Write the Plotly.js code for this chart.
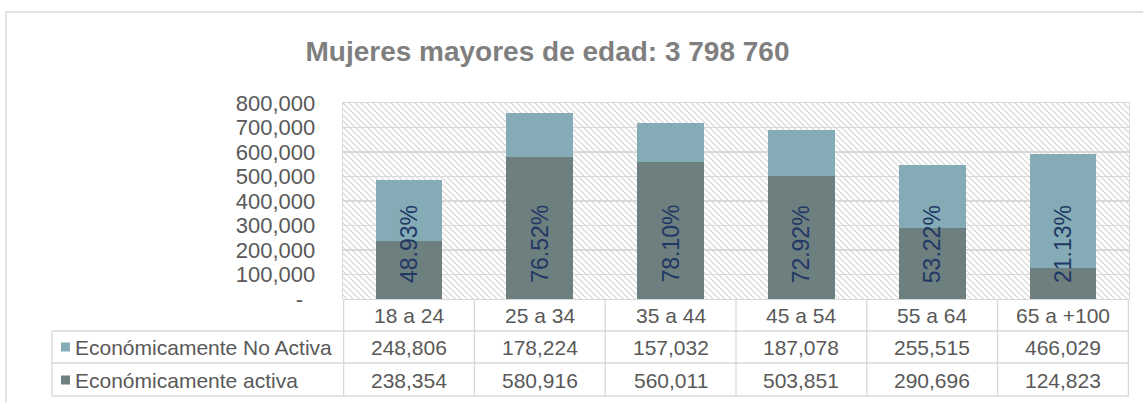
<!DOCTYPE html>
<html>
<head>
<meta charset="utf-8">
<script src="https://cdn.plot.ly/plotly-3.0.1.min.js"></script>
<style>
  html, body { margin: 0; padding: 0; background: #fff; }
  #chart { width: 1143px; height: 402px; }
</style>
</head>
<body>
<div id="chart"></div>
<script>
const categories = ['18 a 24', '25 a 34', '35 a 44', '45 a 54', '55 a 64', '65 a +100'];
const noActiva = [248806, 178224, 157032, 187078, 255515, 466029];
const activa = [238354, 580916, 560011, 503851, 290696, 124823];
const seriesNames = ['Económicamente No Activa', 'Económicamente activa'];
const yTickVals = [0, 100000, 200000, 300000, 400000, 500000, 600000, 700000, 800000];
const yTickText = ['-\u00a0\u00a0', '100,000', '200,000', '300,000', '400,000', '500,000', '600,000', '700,000', '800,000'];

const COLOR_ACTIVA = '#6E7F80';
const COLOR_NO_ACTIVA = '#85ACB6';
const GRID = '#D9D9D9';
const TEXT = '#595959';
const FONT = 'Liberation Sans, Arial, sans-serif';

// plot area in px, used to turn the table rows into paper coords
const PLOT = { l: 343, r: 1129, t: 103, b: 299 };
const pxX = (px) => (px - PLOT.l) / (PLOT.r - PLOT.l);
const pxY = (py) => (PLOT.b - py) / (PLOT.b - PLOT.t);

const fmt = (v) => v.toLocaleString('en-US');

// hatched background, excel "light downward diagonal"
function hatchImage() {
  const w = PLOT.r - PLOT.l, h = PLOT.b - PLOT.t;
  const svg = `<svg xmlns="http://www.w3.org/2000/svg" width="${w}" height="${h}" viewBox="0 0 ${w} ${h}" preserveAspectRatio="none">
<defs><pattern id="p" width="6" height="6" patternUnits="userSpaceOnUse">
<path d="M0,0 L6,6 M-1,5 L1,7 M5,-1 L7,1" stroke="#D2D2D2" stroke-width="1.1"/>
</pattern></defs><rect width="${w}" height="${h}" fill="url(#p)"/></svg>`;
  return 'data:image/svg+xml;charset=utf-8,' + encodeURIComponent(svg);
}

function getTraces() {
  return [
    {
      type: 'bar', name: seriesNames[1], x: categories, y: activa,
      marker: { color: COLOR_ACTIVA }, hoverinfo: 'skip',
    },
    {
      type: 'bar', name: seriesNames[0], x: categories, y: noActiva,
      marker: { color: COLOR_NO_ACTIVA }, hoverinfo: 'skip',
    },
  ];
}

function cell(x, y, text, xref, xanchor) {
  return {
    x, y, xref, yref: 'paper', xanchor, yanchor: 'middle',
    showarrow: false, text,
  };
}

function getAnnotations() {
  const ann = [];
  const rowY = [pxY(315), pxY(347), pxY(380)];
  categories.forEach((c, i) => {
    const pct = activa[i] / (activa[i] + noActiva[i]) * 100;
    ann.push({
      x: c, y: 0, xref: 'x', yref: 'y', yanchor: 'bottom', yshift: 14,
      textangle: -90, showarrow: false, text: pct.toFixed(2) + '%',
      font: { family: FONT, size: 23, color: '#1F3864' },
    });
    ann.push(cell(c, rowY[0], c, 'x', 'center'));
    ann.push(cell(c, rowY[1], fmt(noActiva[i]), 'x', 'center'));
    ann.push(cell(c, rowY[2], fmt(activa[i]), 'x', 'center'));
  });
  seriesNames.forEach((s, k) => {
    ann.push(cell(pxX(73), rowY[k + 1], s, 'paper', 'left'));
  });
  return ann;
}

function getShapes() {
  const line = { color: GRID, width: 1.3 };
  const shapes = [];
  const rows = [pxY(331), pxY(363), pxY(396)];
  // outer chart border
  shapes.push({
    type: 'rect', xref: 'paper', yref: 'paper', x0: pxX(6), x1: 1.2, y0: -1, y1: pxY(12),
    line: { color: '#D9D9D9', width: 1.5 }, layer: 'below',
  });
  rows.forEach((y) => {
    shapes.push({ type: 'line', xref: 'paper', yref: 'paper', x0: pxX(52), x1: 1, y0: y, y1: y, line });
  });
  shapes.push({ type: 'line', xref: 'paper', yref: 'paper', x0: pxX(52), x1: pxX(52), y0: rows[0], y1: rows[2], line });
  for (let i = 0; i <= categories.length; i++) {
    shapes.push({ type: 'line', xref: 'x', yref: 'paper', x0: i - 0.5, x1: i - 0.5, y0: 0, y1: rows[2], line });
  }
  // legend keys
  [COLOR_NO_ACTIVA, COLOR_ACTIVA].forEach((col, k) => {
    const cy = [347, 380][k];
    shapes.push({
      type: 'rect', xref: 'paper', yref: 'paper', x0: pxX(61), x1: pxX(70),
      y0: pxY(cy + 4.5), y1: pxY(cy - 4.5), fillcolor: col, line: { width: 0 },
    });
  });
  return shapes;
}

const LAYOUT = {
  width: 1143,
  height: 402,
  margin: { l: PLOT.l, r: 1143 - PLOT.r, t: PLOT.t, b: 402 - PLOT.b, pad: 0 },
  paper_bgcolor: '#ffffff',
  plot_bgcolor: 'rgba(0,0,0,0)',
  font: { family: FONT, size: 21, color: TEXT },
  showlegend: false,
  barmode: 'stack',
  bargap: 0.49,
  title: {
    text: '<b>Mujeres mayores de edad: 3 798 760</b>',
    xref: 'container', x: 0.479, xanchor: 'center',
    yref: 'container', y: 1 - 51 / 402, yanchor: 'middle',
    font: { family: FONT, size: 28, color: '#7F7F7F' },
  },
  xaxis: {
    type: 'category',
    showticklabels: false,
    ticks: '',
    showgrid: false,
    showline: true, mirror: true, linecolor: GRID, linewidth: 1.3,
  },
  yaxis: {
    range: [0, 800000],
    tickvals: yTickVals,
    ticktext: yTickText,
    tickfont: { family: FONT, size: 22, color: TEXT },
    ticks: '',
    ticklabelstandoff: 22,
    showgrid: true, gridcolor: GRID, gridwidth: 1.3,
    zeroline: false,
    showline: true, mirror: true, linecolor: GRID, linewidth: 1.3,
  },
  images: [{
    source: hatchImage(), xref: 'paper', yref: 'paper', x: 0, y: 1,
    sizex: 1, sizey: 1, sizing: 'stretch', xanchor: 'left', yanchor: 'top', layer: 'below',
  }],
  annotations: getAnnotations(),
  shapes: getShapes(),
};

const CONFIG = { displayModeBar: false, staticPlot: true };

Plotly.newPlot('chart', getTraces(), LAYOUT, CONFIG);
</script>
</body>
</html>
